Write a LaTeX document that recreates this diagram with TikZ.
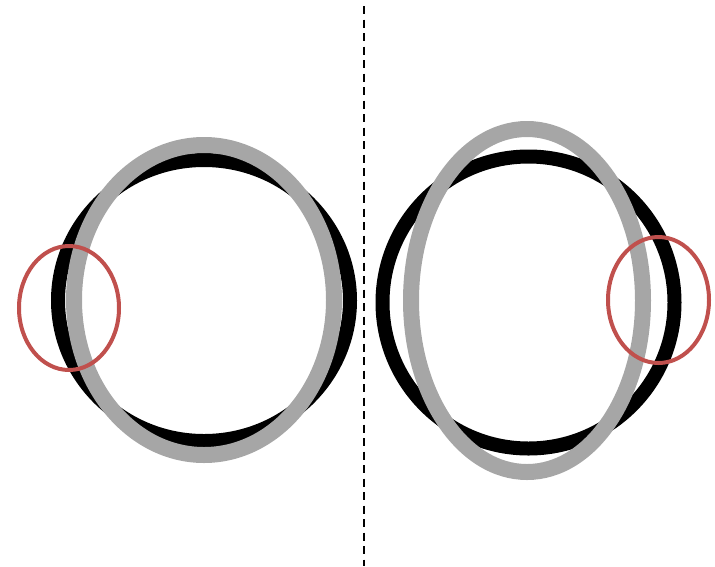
\documentclass[tikz,border=0pt]{standalone}
\definecolor{ringgray}{HTML}{A6A6A6}
\definecolor{ringred}{HTML}{C0504D}
\tikzset{
  blackring/.style={line width=14pt,black},
  grayring/.style={line width=16pt,ringgray},
  redring/.style={line width=4pt,ringred}
}
\begin{document}
\begin{tikzpicture}
[x=1pt,y=-1pt]
\useasboundingbox (0,0) rectangle (715,566);
\draw[line width=2pt,dash pattern=on 8pt off 5.5pt] (364,6)--(364,566);
% left
\draw[blackring] (204,300.5) ellipse (146 and 140.5);
\draw[grayring] (204,300) ellipse (130 and 155);
\draw[redring] (69,308) ellipse (50 and 62);
% right
\draw[blackring] (528.5,302.5) ellipse (146 and 146);
\draw[grayring] (527,300.5) ellipse (116 and 171.5);
\draw[redring] (658.5,300) ellipse (50.5 and 63);

\end{tikzpicture}
\end{document}
